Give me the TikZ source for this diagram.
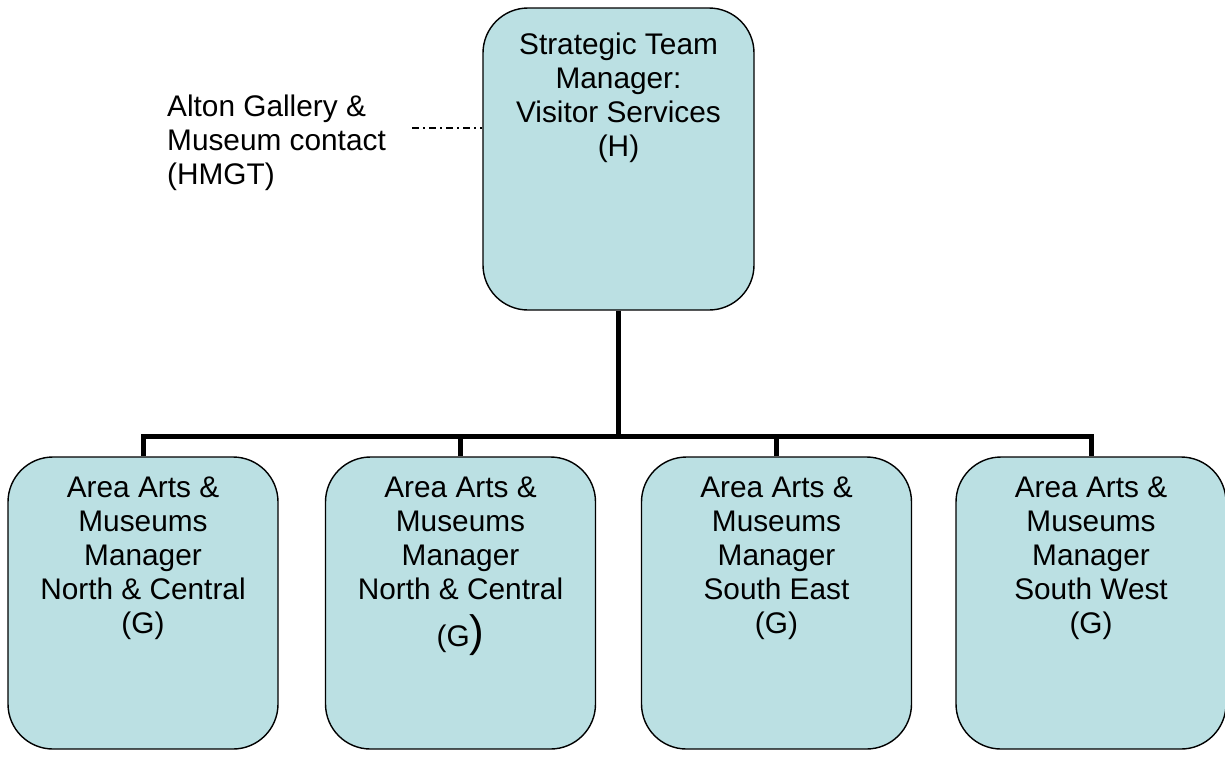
\documentclass[tikz,border=0pt]{standalone}
\usepackage{fontspec}
\setmainfont{Liberation Sans}
\usepackage{tikz}
\usepackage{xcolor}
\definecolor{boxfill}{RGB}{187,224,227}

\begin{document}
\begin{tikzpicture}[x=1pt,y=-1pt,
    post/.style={draw=black,line width=1.4pt,fill=boxfill,rounded corners=45pt,
        minimum width=270pt,inner sep=0pt},
    posttext/.style={anchor=north,inner sep=0pt,align=center,
        font=\fontsize{29.8}{33.8}\selectfont},
    link/.style={line width=5pt,line join=miter}]
    \useasboundingbox (0,0) rectangle (1225,756);
    % top post
    \node[post,minimum width=271pt,minimum height=302pt] (stm) at (618.5,159) {};
    \node[posttext] (stmtext) at (618.5,33) {Strategic Team\\Manager:\\Visitor Services\\(H)};
    % contact
    \node[anchor=north west,inner sep=0pt,align=left,
        font=\fontsize{29.8}{33.8}\selectfont] (alton) at (167,95)
        {Alton Gallery \&\\Museum contact\\(HMGT)};
    \coordinate (dashend) at (412,128);
    \draw[line width=1.2pt,dash pattern=on 7pt off 4pt on 2pt off 4pt] (dashend) -- (dashend -| stm.west);
    % area posts
    \node[post,minimum height=292pt] (nc1) at (143,603) {};
    \node[post,minimum height=292pt] (nc2) at (460.5,603) {};
    \node[post,minimum height=292pt] (se) at (776.5,603) {};
    \node[post,minimum height=292pt] (sw) at (1091,603) {};
    \node[posttext] at (143,477) {Area Arts \&\\Museums\\Manager\\North \& Central\\(G)};
    \node[posttext] at (460.5,477) {Area Arts \&\\Museums\\Manager\\North \& Central\\[13pt](G{\fontsize{44}{44}\selectfont)}};
    \node[posttext] at (776.5,477) {Area Arts \&\\Museums\\Manager\\South East\\(G)};
    \node[posttext] at (1091,477) {Area Arts \&\\Museums\\Manager\\South West\\(G)};
    % connectors
    \coordinate (bus) at (618.5,436);
    \draw[link] (stm.south) -- (bus);
    \draw[link] (nc1.north) -- (nc1.north |- bus) -- (sw.north |- bus) -- (sw.north);
    \draw[link] (nc2.north) -- (nc2.north |- bus);
    \draw[link] (se.north) -- (se.north |- bus);
\end{tikzpicture}
\end{document}
